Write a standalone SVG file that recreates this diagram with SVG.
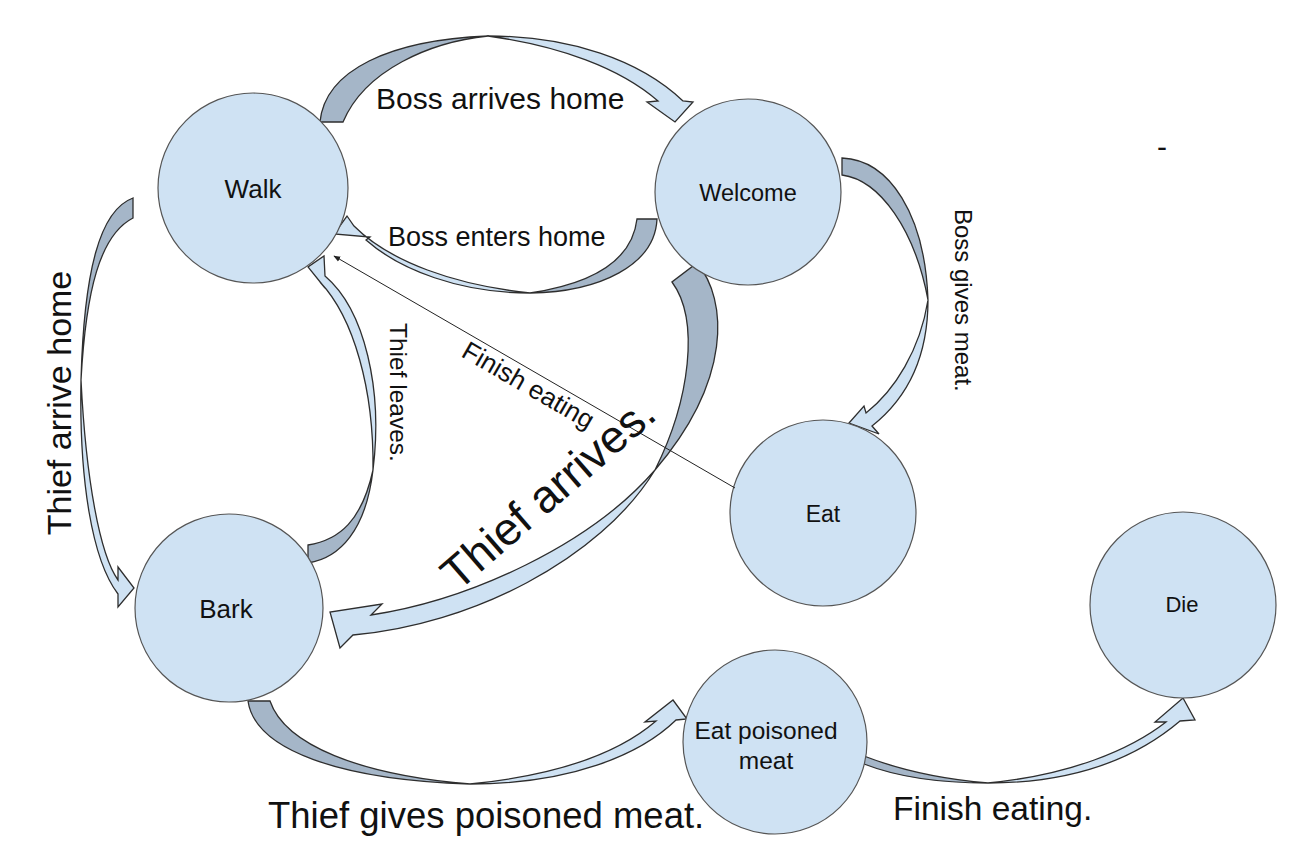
<svg xmlns="http://www.w3.org/2000/svg" width="1298" height="856" viewBox="0 0 1298 856">
<style>
.dk{fill:#a5b6c8;stroke:#2e2e2e;stroke-width:1.3;stroke-linejoin:miter}
.lt{fill:#cfe2f3;stroke:#2e2e2e;stroke-width:1.3;stroke-linejoin:miter}
.node circle{fill:#cfe2f3;stroke:#555;stroke-width:1.2}
text{font-family:"Liberation Sans",Arial,sans-serif;fill:#111}
.nl{text-anchor:middle}
</style>
<defs>
<marker id="ah" viewBox="0 0 10 10" refX="9" refY="5" markerWidth="7" markerHeight="7" orient="auto" markerUnits="userSpaceOnUse">
<path d="M0,1 L10,5 L0,9 Z" fill="#222"/>
</marker>
</defs>
<rect width="1298" height="856" fill="#fff"/>
<g id="connectors">
<!-- Boss arrives home -->
<path class="dk" d="M320,122 C325,70 390,40 488,36 C430,42 365,70 343,122 Z"/>
<path class="lt" d="M488,36 C570,36 640,60 683,101 L693,102 L675,122 L647,102 L658,101 C620,68 560,46 488,36 Z"/>
<!-- Boss enters home -->
<path class="dk" d="M657,219 C655,265 600,292 530,293 C590,284 632,262 637,219 Z"/>
<path class="lt" d="M530,293 C460,293 400,270 366,240 L370,237 L334,234 L347,216 L354,226 C390,262 455,285 530,293 Z"/>
<!-- Thief arrive home -->
<path class="dk" d="M133,198 C100,210 84,270 81,380 C86,290 100,235 133,218 Z"/>
<path class="lt" d="M81,380 C79,480 92,560 118,594 L118,607 L134,588 L118,567 L118,580 C100,555 86,480 81,380 Z"/>
<!-- Thief leaves -->
<path class="dk" d="M308,563 C340,558 366,530 373,470 C362,520 340,540 308,545 Z"/>
<path class="lt" d="M373,470 C383,390 365,310 325,276 L324,256 L308,267 L325,288 L320,282 C354,318 374,390 373,470 Z"/>
<!-- Thief arrives -->
<path class="dk" d="M697,263 C728,300 732,380 655,470 C690,400 700,320 672,282 Z"/>
<path class="lt" d="M655,470 C600,560 470,625 353,635 L340,648 L330,612 L382,604 L371,615 C470,600 590,545 655,470 Z"/>
<!-- Boss gives meat -->
<path class="dk" d="M842,158 C890,160 925,215 928,300 C915,230 880,180 842,175 Z"/>
<path class="lt" d="M928,300 C928,360 905,400 872,426 L879,434 L849,423 L864,406 L866,413 C895,390 920,350 928,300 Z"/>
<!-- Thief gives poisoned meat -->
<path class="dk" d="M248,701 C255,750 340,780 470,784 C360,775 285,745 270,701 Z"/>
<path class="lt" d="M470,784 C570,784 640,755 676,720 L687,719 L673,700 L645,722 L656,721 C620,752 560,775 470,784 Z"/>
<!-- Finish eating. -->
<path class="dk" d="M864,764 C900,778 940,783 988,783 C940,779 900,770 864,756 Z"/>
<path class="lt" d="M988,783 C1080,783 1140,755 1180,721 L1195,720 L1183,698 L1155,722 L1166,722 C1130,750 1070,775 988,783 Z"/>
</g>
<g id="walk" class="node"><circle cx="253" cy="188" r="95"/><text class="nl" x="253" y="198" font-size="26">Walk</text></g>
<g id="welcome" class="node"><circle cx="748" cy="192" r="93"/><text class="nl" x="748" y="201" font-size="23.5">Welcome</text></g>
<g id="eat" class="node"><circle cx="823" cy="513" r="93"/><text class="nl" x="823" y="522" font-size="23">Eat</text></g>
<g id="bark" class="node"><circle cx="229" cy="608" r="94"/><text class="nl" x="226" y="618" font-size="26">Bark</text></g>
<g id="eatpoison" class="node"><circle cx="775" cy="742" r="92"/><text class="nl" x="766" y="739" font-size="24.5">Eat poisoned</text><text class="nl" x="766" y="769" font-size="24.5">meat</text></g>
<g id="die" class="node"><circle cx="1183" cy="605" r="93"/><text class="nl" x="1182" y="612" font-size="22">Die</text></g>
<g id="thin">
<line x1="735" y1="488" x2="334" y2="256" stroke="#222" stroke-width="1" marker-end="url(#ah)"/>
</g>
<g id="labels">
<text x="376" y="109" font-size="30">Boss arrives home</text>
<text x="388" y="246" font-size="27">Boss enters home</text>
<text transform="translate(71,403) rotate(-90)" text-anchor="middle" font-size="34">Thief arrive home</text>
<text transform="translate(390,323) rotate(90)" font-size="24.5">Thief leaves.</text>
<text transform="translate(955,209) rotate(90)" font-size="24">Boss gives meat.</text>
<text transform="translate(460,356) rotate(30)" font-size="26">Finish eating</text>
<text transform="translate(458,592) rotate(-41)" font-size="46">Thief arrives.</text>
<text x="268" y="828" font-size="36.5">Thief gives poisoned meat.</text>
<text x="893" y="820" font-size="33.5">Finish eating.</text>
<text x="1157" y="157" font-size="30">-</text>
</g>
</svg>
